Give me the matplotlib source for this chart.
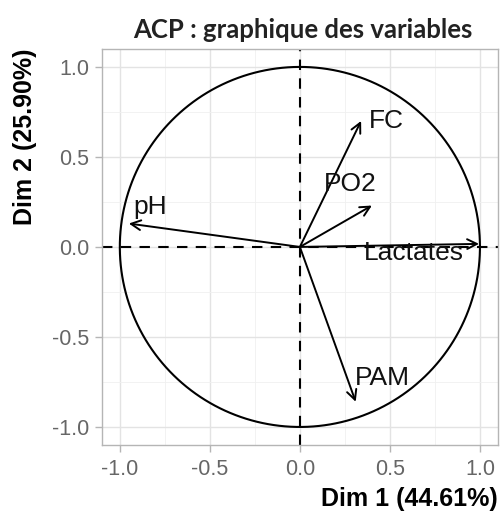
import numpy as np
import matplotlib.pyplot as plt
from matplotlib.ticker import MultipleLocator

# coordonnees des variables (cercle des correlations)
variables = ['pH', 'FC', 'PO2', 'Lactates', 'PAM']
dim1 = [-0.95, 0.34, 0.40, 0.995, 0.31]
dim2 = [0.13, 0.70, 0.23, 0.017, -0.86]
tick_vals = [-1.0, -0.5, 0.0, 0.5, 1.0]
tick_labels = ['-1.0', '-0.5', '0.0', '0.5', '1.0']

# decalage des etiquettes par rapport a la pointe des fleches
label_dx = [0.12, 0.14, -0.12, -0.36, 0.15]
label_dy = [0.09, 0.0, 0.12, -0.05, 0.13]

fig = plt.figure(figsize=(5.04, 5.15), dpi=100)
ax = fig.add_axes([0.202, 0.136, 0.786, 0.769])

grey = '#b5b5b5'
ax.set_xlim(-1.1, 1.1)
ax.set_ylim(-1.1, 1.1)
ax.xaxis.set_major_locator(MultipleLocator(0.5))
ax.yaxis.set_major_locator(MultipleLocator(0.5))
ax.xaxis.set_minor_locator(MultipleLocator(0.25))
ax.yaxis.set_minor_locator(MultipleLocator(0.25))
ax.grid(which='major', color='#e3e3e3', lw=1.0)
ax.grid(which='minor', color='#f0f0f0', lw=0.6)
ax.set_axisbelow(True)
for s in ax.spines.values():
    s.set_color(grey)
    s.set_linewidth(1.0)
ax.tick_params(which='major', length=5, color=grey, labelcolor='#666666',
               labelsize=15.5, width=1.0, pad=4)
ax.tick_params(axis='x', pad=5)
ax.tick_params(which='minor', length=0)
ax.set_xticks(tick_vals, tick_labels)
ax.set_yticks(tick_vals, tick_labels)
for lab in ax.get_xticklabels() + ax.get_yticklabels():
    lab.set_family('Liberation Sans')

t = np.linspace(0, 2 * np.pi, 400)
ax.plot(np.cos(t), np.sin(t), color='black', lw=1.5)
ax.axhline(0, color='black', lw=1.5, ls=(0, (5, 4)))
ax.axvline(0, color='black', lw=1.5, ls=(0, (5, 4)))

for name, x, y, dx, dy in zip(variables, dim1, dim2, label_dx, label_dy):
    ax.annotate('', xy=(x, y), xytext=(0, 0),
                arrowprops=dict(arrowstyle='->,head_length=0.7,head_width=0.35',
                                color='black', lw=1.4, shrinkA=0, shrinkB=0))
    ax.text(x + dx, y + dy, name, ha='center', va='center', fontsize=19,
            family='Liberation Sans', color='#111111')

ax.set_xlabel('Dim 1 (44.61%)', fontsize=18, fontweight='bold',
              family='Liberation Sans', loc='right', labelpad=5)
ax.set_ylabel('Dim 2 (25.90%)', fontsize=18, fontweight='bold',
              family='Liberation Sans', loc='top', labelpad=11)
fig.text(0.60, 0.942, 'ACP : graphique des variables', ha='center', va='center',
         fontsize=18.5, fontweight='bold', family='Lato', color='#222222')

fig.savefig('out.png', dpi=100)
